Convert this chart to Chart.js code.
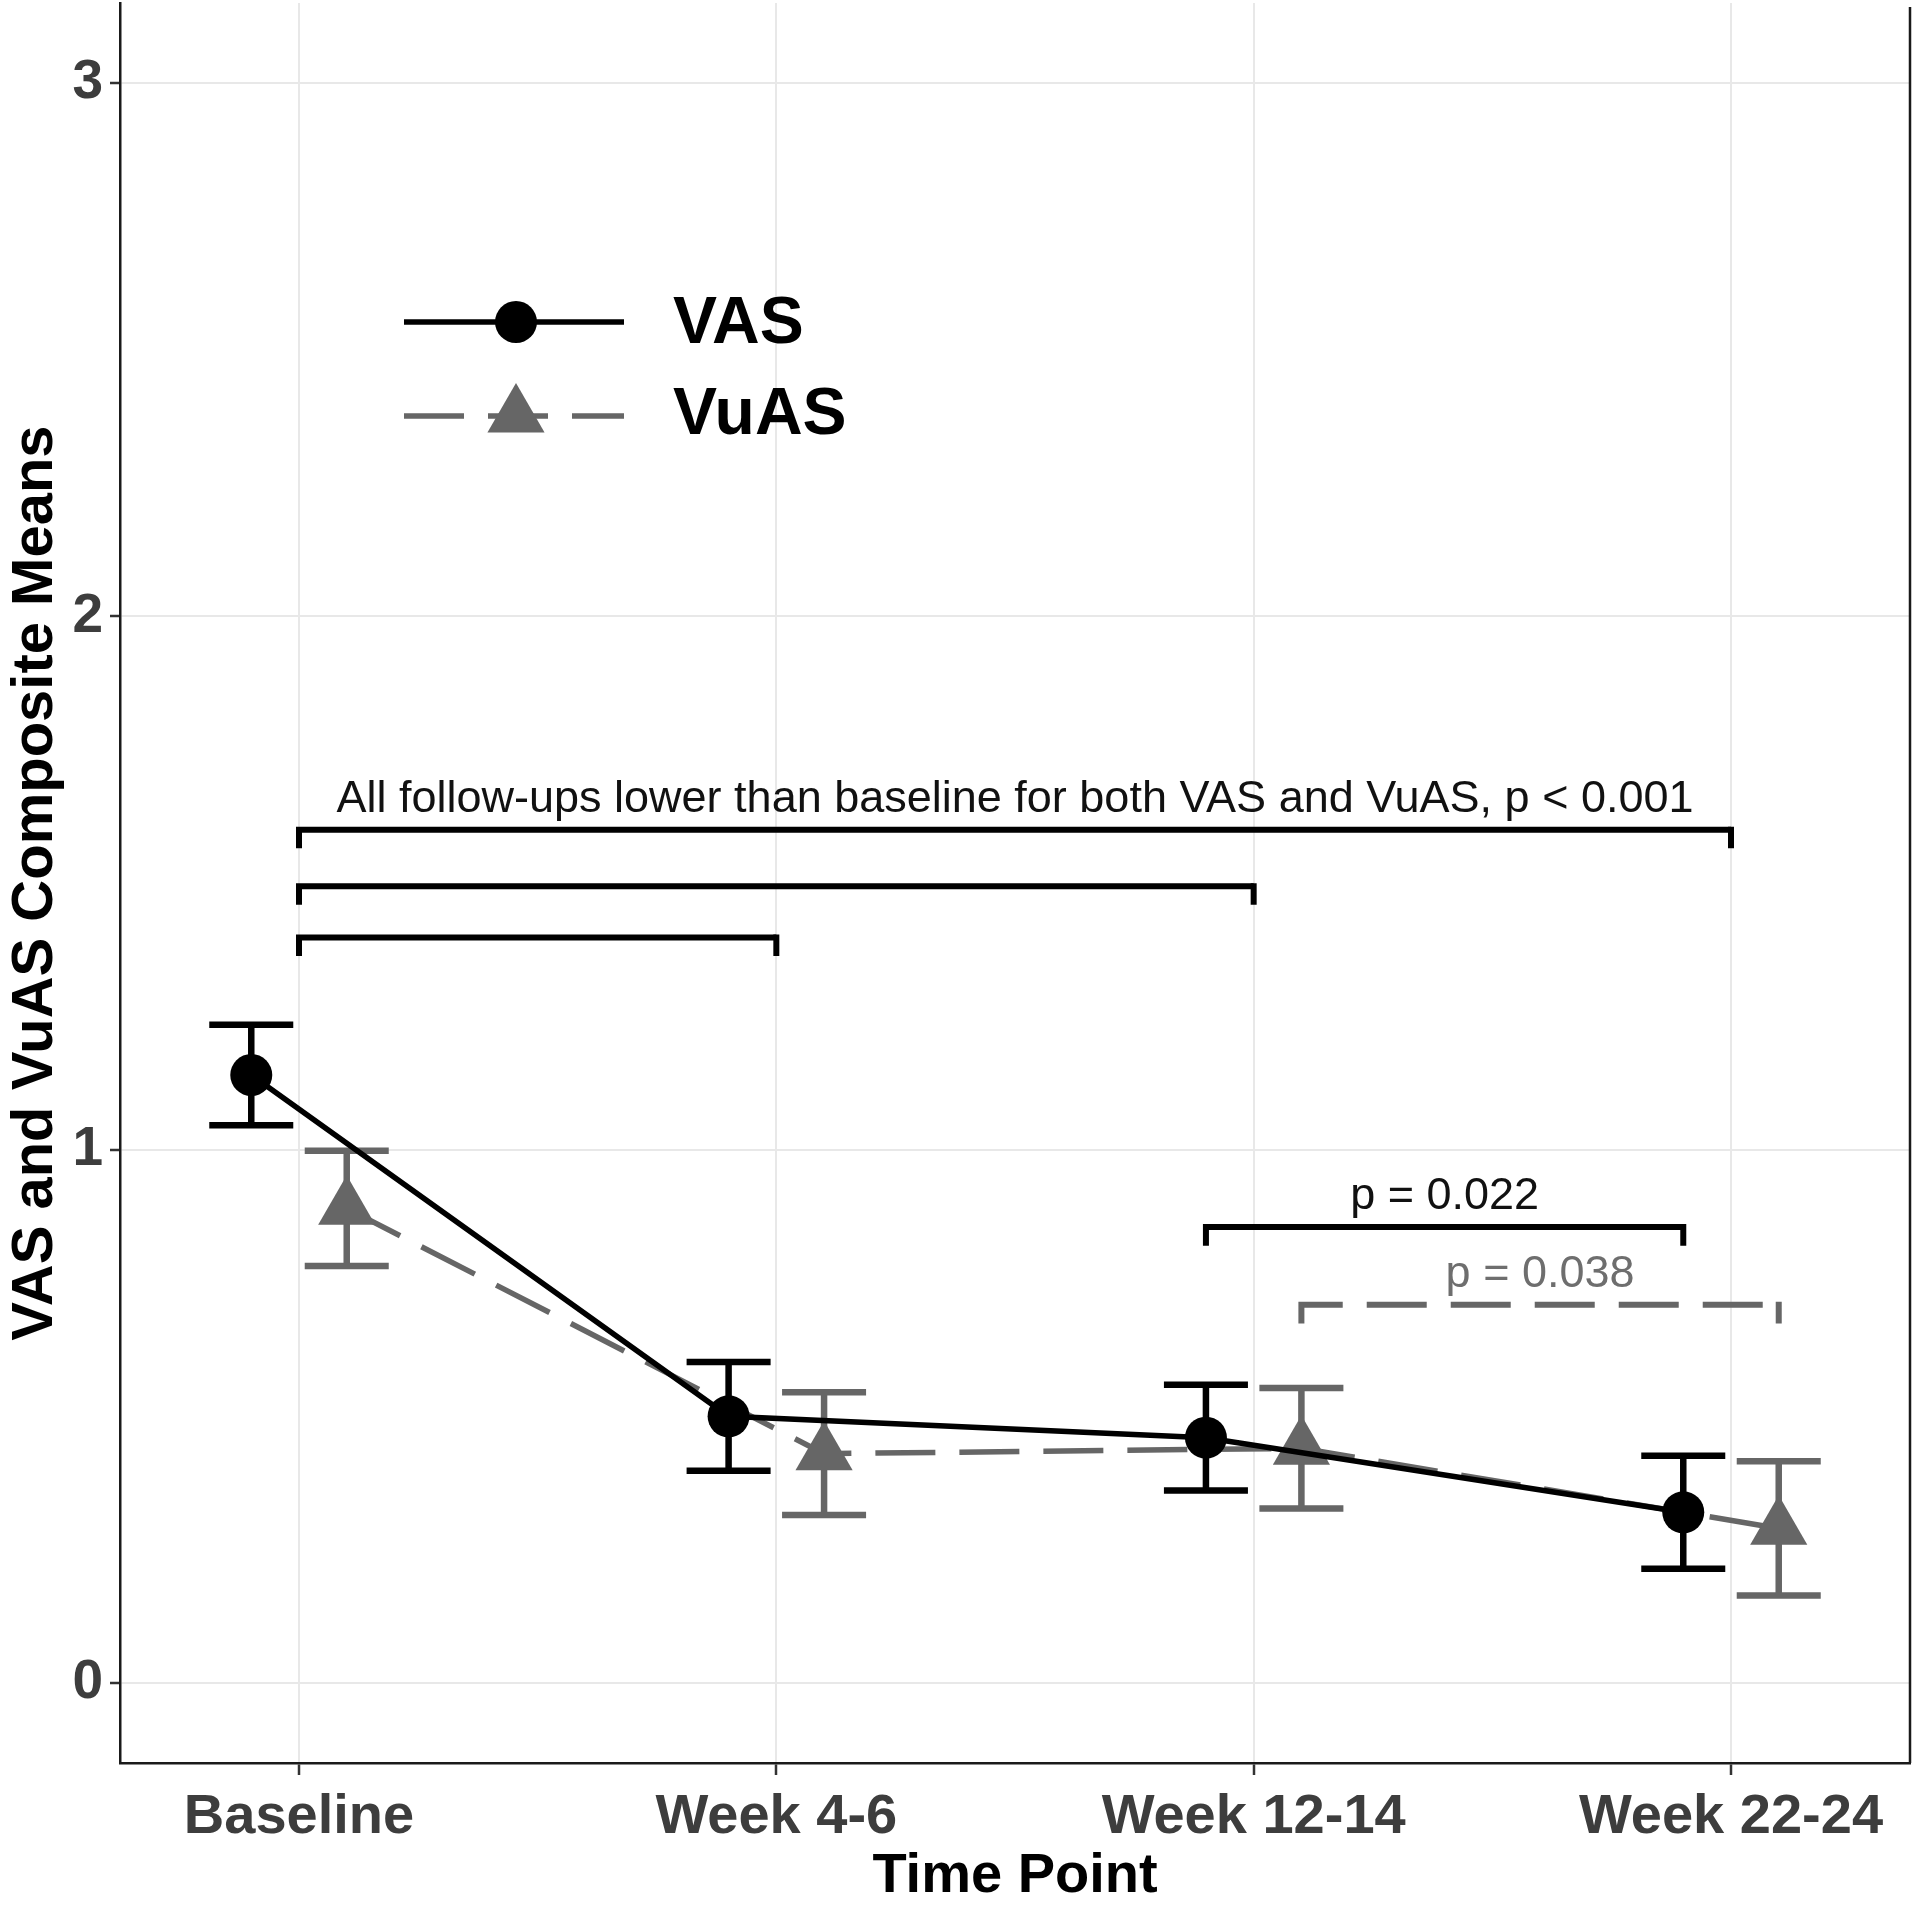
<!DOCTYPE html>
<html>
<head>
<meta charset="utf-8">
<title>VAS and VuAS Composite Means</title>
<script src="https://cdn.jsdelivr.net/npm/chart.js@4.4.1/dist/chart.umd.min.js"></script>
<style>
  html, body { margin: 0; padding: 0; background: #fff; }
  #wrap { width: 1920px; height: 1906px; }
</style>
</head>
<body>
<div id="wrap"><canvas id="chart" width="1920" height="1906"></canvas></div>
<script>
// ----------------------------------------------
// values
// ----------------------------------------------
const timePoints = ['Baseline', 'Week 4-6', 'Week 12-14', 'Week 22-24'];
const vasMean  = [1.14, 0.50, 0.46, 0.32];
const vasErr   = [0.094, 0.102, 0.099, 0.106];
const vuasMean = [0.89, 0.43, 0.44, 0.29];
const vuasErr  = [0.108, 0.115, 0.113, 0.126];
const yTicks   = [0, 1, 2, 3];

// significance brackets: x in time-point index, y in score units
const bracketFrom   = [0, 0, 0, 1.9, 2.1];
const bracketTo     = [3, 2, 1, 2.9, 3.1];
const bracketY      = [1.60, 1.494, 1.398, 0.855, 0.709];
const bracketSeries = ['VAS', 'VAS', 'VAS', 'VAS', 'VuAS'];
const bracketText   = [
  'All follow-ups lower than baseline for both VAS and VuAS, p < 0.001',
  '', '', 'p = 0.022', 'p = 0.038'
];

// ----------------------------------------------
// styling
// ----------------------------------------------
const FONT   = '"Liberation Sans", Arial, Helvetica, sans-serif';
const BLACK  = '#000000';
const GREY   = '#666666';
const DODGE  = 0.1;      // horizontal shift of each series
const CAP    = 0.088;    // half width of error-bar caps (x units)
const DASH   = [60, 24];
const GRID   = '#e8e8e8';

const seriesStyle = {
  VAS:  { color: BLACK, dash: [] },
  VuAS: { color: GREY,  dash: DASH }
};

const toPoints = (arr, shift) => arr.map((y, i) => ({ x: i + shift, y }));

// error bars, drawn under the lines/markers
const errorBarPlugin = {
  id: 'errorBars',
  beforeDatasetsDraw(chart) {
    const { ctx, scales: { x, y } } = chart;
    const sets = [
      { mean: vasMean,  err: vasErr,  shift: -DODGE, color: BLACK },
      { mean: vuasMean, err: vuasErr, shift:  DODGE, color: GREY }
    ];
    ctx.save();
    ctx.lineWidth = 6.5;
    ctx.lineCap = 'butt';
    sets.forEach(s => {
      ctx.strokeStyle = s.color;
      s.mean.forEach((m, i) => {
        const xc = x.getPixelForValue(i + s.shift);
        const xl = x.getPixelForValue(i + s.shift - CAP);
        const xr = x.getPixelForValue(i + s.shift + CAP);
        const yt = y.getPixelForValue(m + s.err[i]);
        const yb = y.getPixelForValue(m - s.err[i]);
        ctx.beginPath();
        ctx.moveTo(xc, yt); ctx.lineTo(xc, yb);
        ctx.moveTo(xl, yt); ctx.lineTo(xr, yt);
        ctx.moveTo(xl, yb); ctx.lineTo(xr, yb);
        ctx.stroke();
      });
    });
    ctx.restore();
  }
};

// brackets + p-value labels, legend, right border
const annotationPlugin = {
  id: 'annotations',
  afterDatasetsDraw(chart) {
    const { ctx, scales: { x, y } } = chart;
    ctx.save();
    ctx.lineWidth = 6;
    ctx.lineJoin = 'miter';
    ctx.lineCap = 'butt';
    bracketFrom.forEach((from, i) => {
      const st = seriesStyle[bracketSeries[i]];
      const x1 = x.getPixelForValue(from);
      const x2 = x.getPixelForValue(bracketTo[i]);
      const yl = y.getPixelForValue(bracketY[i]);
      const yd = y.getPixelForValue(bracketY[i] - 0.035);
      ctx.strokeStyle = st.color;
      // left tick + bar (dashed if needed), right tick solid
      ctx.setLineDash(st.dash);
      ctx.beginPath();
      ctx.moveTo(x1, yd); ctx.lineTo(x1, yl); ctx.lineTo(x2, yl);
      ctx.stroke();
      ctx.setLineDash([]);
      ctx.beginPath();
      ctx.moveTo(x2 - 3, yl); ctx.lineTo(x2, yl); ctx.lineTo(x2, yd);
      ctx.stroke();
      if (bracketText[i]) {
        ctx.fillStyle = bracketSeries[i] === 'VuAS' ? '#6e6e6e' : '#111111';
        ctx.font = '45px ' + FONT;
        ctx.textAlign = 'center';
        ctx.textBaseline = 'alphabetic';
        ctx.fillText(bracketText[i], (x1 + x2) / 2, yl - 18);
      }
    });
    ctx.restore();
  },
  afterDraw(chart) {
    const { ctx, chartArea: ca } = chart;
    ctx.save();
    // right border of the panel
    ctx.strokeStyle = '#1a1a1a';
    ctx.lineWidth = 2.5;
    ctx.beginPath();
    ctx.moveTo(ca.right, ca.top + 4);
    ctx.lineTo(ca.right, ca.bottom);
    ctx.stroke();

    // legend
    const lx0 = ca.left + 284, lx1 = ca.left + 504, lxm = ca.left + 396;
    const rows = [
      { label: 'VAS',  y: ca.top + 319, style: seriesStyle.VAS,  marker: 'circle' },
      { label: 'VuAS', y: ca.top + 413, style: seriesStyle.VuAS, marker: 'triangle' }
    ];
    rows.forEach(r => {
      ctx.strokeStyle = r.style.color;
      ctx.fillStyle = r.style.color;
      ctx.lineWidth = 5.5;
      ctx.setLineDash(r.style.dash);
      ctx.beginPath();
      ctx.moveTo(lx0, r.y); ctx.lineTo(lx1, r.y);
      ctx.stroke();
      ctx.setLineDash([]);
      ctx.beginPath();
      if (r.marker === 'circle') {
        ctx.arc(lxm, r.y, 21, 0, Math.PI * 2);
      } else {
        const rad = 33;
        ctx.moveTo(lxm, r.y - rad);
        ctx.lineTo(lxm + rad * 0.866, r.y + rad / 2);
        ctx.lineTo(lxm - rad * 0.866, r.y + rad / 2);
        ctx.closePath();
      }
      ctx.fill();
      ctx.fillStyle = BLACK;
      ctx.font = 'bold 66px ' + FONT;
      ctx.textAlign = 'left';
      ctx.textBaseline = 'middle';
      ctx.fillText(r.label, ca.left + 553, r.y + (r.marker === 'circle' ? 3 : 0));
    });
    ctx.restore();
  }
};

const tickFont  = { family: FONT, size: 55, weight: 'bold' };
const titleFont = { family: FONT, size: 56, weight: 'bold', lineHeight: 1 };

new Chart(document.getElementById('chart').getContext('2d'), {
  type: 'line',
  data: {
    datasets: [
      {
        label: 'VAS',
        data: toPoints(vasMean, -DODGE),
        borderColor: BLACK,
        borderWidth: 5.5,
        pointStyle: 'circle',
        pointRadius: 21,
        pointBackgroundColor: BLACK,
        pointBorderWidth: 0,
        tension: 0
      },
      {
        label: 'VuAS',
        data: toPoints(vuasMean, DODGE),
        borderColor: GREY,
        borderWidth: 5.5,
        borderDash: DASH,
        pointStyle: 'triangle',
        pointRadius: 33,
        pointBackgroundColor: GREY,
        pointBorderWidth: 0,
        tension: 0
      }
    ]
  },
  options: {
    responsive: false,
    animation: false,
    events: [],
    layout: { autoPadding: false, padding: { top: 3, right: 10, bottom: 0, left: 0 } },
    plugins: {
      legend: { display: false },
      tooltip: { enabled: false }
    },
    scales: {
      x: {
        type: 'linear',
        min: -0.375,
        max: 3.375,
        afterBuildTicks: s => { s.ticks = timePoints.map((_, i) => ({ value: i })); },
        afterFit: s => { s.height = 143; s.paddingLeft = 0; s.paddingRight = 0; },
        grid: { color: GRID, lineWidth: 2, tickColor: '#333333', tickLength: 12, tickWidth: 2.5 },
        border: { display: true, color: '#1a1a1a', width: 2.5 },
        ticks: {
          callback: v => timePoints[v],
          font: { family: FONT, size: 56, weight: 'bold' },
          color: '#3d3d3d',
          padding: 9,
          maxRotation: 0,
          autoSkip: false
        },
        title: {
          display: true,
          text: 'Time Point',
          font: titleFont,
          color: BLACK,
          padding: { top: 0, bottom: 1 }
        }
      },
      y: {
        min: -0.15,
        max: 3.15,
        afterBuildTicks: s => { s.ticks = yTicks.map(v => ({ value: v })); },
        afterFit: s => { s.width = 120; s.paddingTop = 0; s.paddingBottom = 0; },
        grid: { color: GRID, lineWidth: 2, tickColor: '#333333', tickLength: 10, tickWidth: 2.5 },
        border: { display: true, color: '#1a1a1a', width: 2.5 },
        ticks: { font: tickFont, color: '#3d3d3d', padding: 7 },
        title: {
          display: true,
          text: 'VAS and VuAS Composite Means',
          font: { family: FONT, size: 58, weight: 'bold', lineHeight: 1 },
          color: BLACK,
          padding: { top: 7, bottom: 0 }
        }
      }
    }
  },
  plugins: [errorBarPlugin, annotationPlugin]
});
</script>
</body>
</html>
